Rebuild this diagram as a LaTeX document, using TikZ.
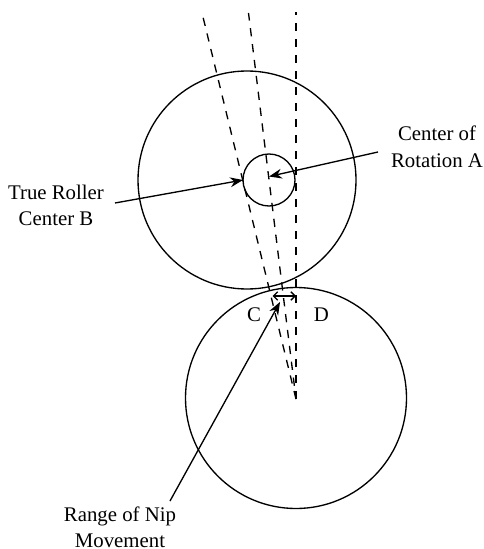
\documentclass[tikz,border=0pt]{standalone}
\usepackage{fontspec}
\setmainfont{Liberation Serif}
\usetikzlibrary{arrows.meta}
\tikzset{
  roll/.style={circle, draw=black, line width=1pt, inner sep=0pt, minimum size=#1*0.75pt},
  axis/.style={draw=black, line width=1pt, dash pattern=on 6.2pt off 5.8pt},
  flow/.style={-{Stealth[length=3.4mm,width=2.6mm]}, draw=black, line width=1pt},
  nipspan/.style={{Straight Barb[length=1.1mm]}-{Straight Barb[length=1.1mm]}, draw=black, line width=1pt},
  lbl/.style={font=\fontsize{15.6}{19.9}\selectfont, align=center, inner sep=0pt},
}
\begin{document}
\begin{tikzpicture}[x=0.75pt,y=-0.75pt]
  \useasboundingbox (0,0) rectangle (484,549);
  % rollers
  \node[roll=218] (upper) at (247,180) {};
  \node[roll=221] (lower) at (296,398) {};
  \node[roll=52]  (core)  at (269,180) {};
  % axes
  \coordinate (pivot) at (296,399);
  \coordinate (axisB) at (203,17);
  \coordinate (axisA) at (248.5,13);
  \coordinate (axisD) at (296,12);
  \draw[axis] (pivot) -- (axisB);
  \draw[axis, dash phase=2pt] (pivot) -- (axisA);
  \draw[axis] (pivot) -- (axisD);
  % labels
  \node[lbl] (rot)  at (437,147) {Center of\\Rotation A};
  \node[lbl] (true) at (56,205.3)  {True Roller\\Center B};
  \node[lbl] (nip)  at (120,527.5) {Range of Nip\\Movement};
  \node[lbl] (c)    at (254,314.5) {C};
  \node[lbl] (d)    at (321.5,314.5) {D};
  % arrows
  \coordinate (fromB) at (115,203);
  \coordinate (tipB)  at (243,180);
  \coordinate (ctrA)  at (269,176.5);
  \coordinate (fromA) at (378,152);
  \coordinate (fromN) at (170,501);
  \coordinate (tipN)  at (280,302);
  \coordinate (rangeC) at (272.5,296);
  \coordinate (rangeD) at (296,296);
  \draw[flow] (fromB) -- (tipB);
  \draw[flow] (fromA) -- (ctrA);
  \draw[flow] (fromN) -- (tipN);
  \draw[nipspan] (rangeC) -- (rangeD);
\end{tikzpicture}
\end{document}
